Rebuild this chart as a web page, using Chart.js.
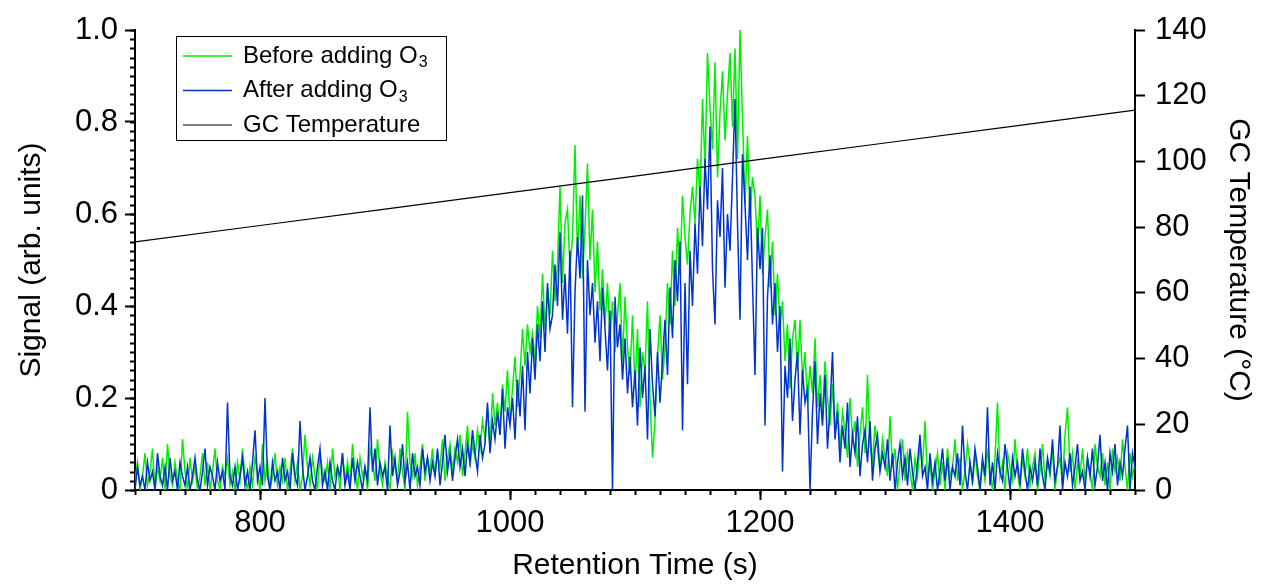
<!DOCTYPE html>
<html>
<head>
<meta charset="utf-8">
<script src="https://cdn.jsdelivr.net/npm/chart.js@4.4.1/dist/chart.umd.min.js"></script>
<style>
  html, body { margin: 0; padding: 0; background: #fff; }
</style>
</head>
<body>
<canvas id="gcChart" width="1262" height="586"></canvas>
<script>
// sampling of the signal traces (s)
const startTime = 700;
const sampleStep = 2;

// signal before adding O3 (arb. units), one value every 2 s from 700 s
const beforeO3 = [
  0.02,0.06,0.00,0.03,0.08,0.01,0.04,0.09,0.00,0.05,0.02,0.07,0.00,0.10,0.03,0.01,0.06,0.02,0.00,0.11,
  0.04,0.00,0.07,0.02,0.05,0.00,0.03,0.08,0.01,0.06,0.00,0.04,0.09,0.02,0.00,0.05,0.03,0.07,0.01,0.04,
  0.00,0.06,0.02,0.09,0.03,0.00,0.05,0.01,0.07,0.04,0.00,0.10,0.02,0.06,0.00,0.03,0.08,0.01,0.05,0.02,
  0.07,0.00,0.04,0.09,0.02,0.06,0.00,0.03,0.12,0.05,0.01,0.07,0.03,0.00,0.08,0.04,0.02,0.06,0.00,0.09,
  0.03,0.05,0.00,0.08,0.02,0.06,0.01,0.10,0.04,0.00,0.07,0.03,0.05,0.00,0.09,0.06,0.02,0.11,0.04,0.01,
  0.06,0.03,0.00,0.08,0.05,0.02,0.09,0.04,0.00,0.17,0.06,0.03,0.08,0.01,0.05,0.10,0.02,0.07,0.04,0.09,
  0.03,0.08,0.05,0.11,0.02,0.07,0.10,0.04,0.09,0.06,0.12,0.03,0.08,0.14,0.05,0.10,0.07,0.13,0.09,0.15,
  0.11,0.18,0.09,0.21,0.14,0.19,0.12,0.23,0.17,0.26,0.15,0.22,0.29,0.18,0.25,0.35,0.27,0.36,0.30,0.34,
  0.28,0.40,0.33,0.47,0.35,0.44,0.38,0.52,0.41,0.49,0.66,0.45,0.58,0.61,0.48,0.55,0.75,0.51,0.64,0.46,
  0.57,0.71,0.50,0.61,0.43,0.54,0.39,0.48,0.36,0.45,0.33,0.41,0.30,0.38,0.45,0.28,0.42,0.31,0.25,0.38,
  0.22,0.35,0.18,0.30,0.26,0.41,0.20,0.07,0.15,0.29,0.38,0.24,0.31,0.45,0.36,0.52,0.40,0.57,0.47,0.64,
  0.55,0.49,0.60,0.66,0.58,0.72,0.64,0.85,0.70,0.95,0.83,0.74,0.93,0.68,0.82,0.91,0.76,0.86,0.95,0.79,
  0.96,0.72,1.00,0.81,0.62,0.77,0.59,0.68,0.64,0.52,0.64,0.47,0.55,0.61,0.44,0.54,0.38,0.47,0.35,0.41,
  0.28,0.36,0.22,0.33,0.37,0.26,0.37,0.24,0.30,0.19,0.27,0.21,0.33,0.18,0.25,0.16,0.28,0.20,0.14,0.23,
  0.12,0.19,0.09,0.17,0.13,0.07,0.20,0.11,0.15,0.05,0.12,0.18,0.08,0.25,0.10,0.06,0.14,0.09,0.04,0.11,
  0.07,0.03,0.16,0.05,0.09,0.00,0.06,0.11,0.02,0.08,0.04,0.00,0.07,0.03,0.10,0.05,0.15,0.02,0.06,0.00,
  0.04,0.08,0.01,0.06,0.00,0.09,0.03,0.05,0.11,0.02,0.07,0.00,0.04,0.10,0.06,0.01,0.08,0.03,0.00,0.06,
  0.02,0.09,0.04,0.00,0.07,0.19,0.03,0.06,0.00,0.08,0.05,0.02,0.11,0.04,0.00,0.07,0.03,0.09,0.01,0.05,
  0.08,0.00,0.04,0.10,0.02,0.06,0.03,0.09,0.00,0.05,0.07,0.01,0.12,0.18,0.04,0.08,0.00,0.06,0.03,0.09,
  0.02,0.07,0.04,0.00,0.10,0.05,0.03,0.08,0.01,0.06,0.00,0.09,0.04,0.07,0.02,0.11,0.05,0.00,0.08,0.03,
  0.06
];

// signal after adding O3
const afterO3 = [
  0.00,0.05,0.01,0.03,0.00,0.06,0.02,0.04,0.00,0.08,0.03,0.01,0.05,0.00,0.07,0.02,0.04,0.00,0.06,0.03,
  0.01,0.05,0.00,0.03,0.07,0.02,0.00,0.04,0.09,0.01,0.05,0.03,0.00,0.06,0.02,0.04,0.00,0.19,0.03,0.01,
  0.05,0.00,0.03,0.07,0.01,0.04,0.00,0.06,0.13,0.02,0.05,0.01,0.20,0.03,0.00,0.06,0.02,0.04,0.00,0.07,
  0.02,0.04,0.00,0.08,0.03,0.01,0.15,0.05,0.00,0.03,0.07,0.02,0.00,0.05,0.09,0.01,0.04,0.00,0.06,0.02,
  0.00,0.05,0.03,0.08,0.01,0.04,0.00,0.07,0.02,0.06,0.03,0.00,0.05,0.02,0.18,0.04,0.09,0.01,0.06,0.03,
  0.05,0.00,0.14,0.03,0.07,0.01,0.04,0.10,0.02,0.06,0.00,0.08,0.03,0.05,0.01,0.09,0.04,0.07,0.02,0.06,
  0.03,0.09,0.01,0.06,0.12,0.04,0.08,0.02,0.07,0.11,0.05,0.09,0.03,0.10,0.06,0.13,0.08,0.04,0.12,0.07,
  0.10,0.19,0.08,0.15,0.11,0.17,0.12,0.22,0.09,0.18,0.14,0.20,0.11,0.24,0.16,0.27,0.13,0.30,0.21,0.33,
  0.24,0.36,0.28,0.41,0.30,0.45,0.35,0.38,0.49,0.40,0.56,0.37,0.47,0.34,0.52,0.18,0.43,0.55,0.46,0.64,
  0.17,0.50,0.38,0.45,0.32,0.41,0.28,0.44,0.35,0.26,0.39,0.00,0.42,0.31,0.36,0.24,0.33,0.21,0.29,0.18,
  0.26,0.14,0.31,0.20,0.27,0.11,0.35,0.23,0.16,0.30,0.19,0.28,0.37,0.25,0.44,0.33,0.50,0.41,0.54,0.13,
  0.45,0.23,0.52,0.40,0.58,0.47,0.66,0.53,0.72,0.61,0.79,0.48,0.36,0.63,0.55,0.70,0.44,0.60,0.52,0.68,
  0.85,0.58,0.37,0.73,0.62,0.50,0.66,0.45,0.25,0.57,0.48,0.57,0.14,0.42,0.51,0.36,0.45,0.30,0.40,0.04,
  0.27,0.20,0.33,0.15,0.24,0.30,0.12,0.26,0.19,0.22,0.00,0.17,0.28,0.10,0.21,0.14,0.25,0.09,0.18,0.30,
  0.11,0.17,0.06,0.14,0.09,0.19,0.05,0.12,0.08,0.16,0.03,0.10,0.13,0.06,0.15,0.02,0.09,0.12,0.04,0.08,
  0.05,0.11,0.02,0.08,0.00,0.06,0.10,0.03,0.07,0.01,0.09,0.04,0.00,0.06,0.12,0.03,0.05,0.00,0.08,0.02,
  0.06,0.00,0.04,0.09,0.02,0.07,0.00,0.05,0.03,0.08,0.01,0.14,0.04,0.00,0.06,0.02,0.09,0.05,0.00,0.07,
  0.03,0.18,0.01,0.06,0.00,0.08,0.04,0.02,0.10,0.05,0.00,0.07,0.03,0.06,0.01,0.09,0.04,0.00,0.05,0.02,
  0.06,0.01,0.09,0.03,0.00,0.07,0.04,0.11,0.02,0.05,0.14,0.00,0.06,0.03,0.08,0.01,0.05,0.10,0.02,0.04,
  0.00,0.07,0.03,0.09,0.01,0.05,0.12,0.02,0.06,0.00,0.08,0.04,0.10,0.01,0.06,0.03,0.09,0.14,0.00,0.08,
  0.05
];

// GC oven temperature (°C)
const tempTimes  = [700, 800, 900, 1000, 1100, 1200, 1300, 1400, 1500];
const tempValues = [75.5, 80.5, 85.5, 90.5, 95.5, 100.6, 105.6, 110.6, 115.6];

// axis ticks
const xTicks = [800, 1000, 1200, 1400];
const xMinorStep = 20;
const signalTicks = [0, 0.2, 0.4, 0.6, 0.8, 1.0];
const signalMinorStep = 0.02;
const tempTicks = [0, 20, 40, 60, 80, 100, 120, 140];

const FONT = "'Liberation Sans', Arial, sans-serif";

function toPoints(values) {
  return values.map((v, i) => ({ x: startTime + i * sampleStep, y: v }));
}

// small ticks between the labelled ones
const minorTicks = {
  id: 'minorTicks',
  afterDraw(chart) {
    const { ctx, scales } = chart;
    const x = scales.x, y = scales.y;
    ctx.save();
    ctx.strokeStyle = '#000';
    ctx.lineWidth = 2;
    ctx.beginPath();
    for (let v = x.min; v <= x.max + 0.001; v += xMinorStep) {
      const px = Math.round(x.getPixelForValue(v)) + 0.5;
      ctx.moveTo(px, x.top);
      ctx.lineTo(px, x.top + 5);
    }
    const n = Math.round((y.max - y.min) / signalMinorStep);
    for (let i = 0; i <= n; i++) {
      const py = Math.round(y.getPixelForValue(y.min + i * signalMinorStep)) + 0.5;
      ctx.moveTo(y.right - 5, py);
      ctx.lineTo(y.right, py);
    }
    ctx.stroke();
    ctx.restore();
  }
};

// boxed legend inside the plot, with subscript 3
const boxLegend = {
  id: 'boxLegend',
  afterDraw(chart) {
    const { ctx, chartArea } = chart;
    const left = chartArea.left + 41, top = chartArea.top + 6;
    const w = 270, h = 104, rowH = 34.5;
    ctx.save();
    ctx.fillStyle = '#fff';
    ctx.fillRect(left, top, w, h);
    ctx.strokeStyle = '#000';
    ctx.lineWidth = 1;
    ctx.strokeRect(left + 0.5, top + 0.5, w, h);
    chart.data.datasets.forEach((ds, i) => {
      const cy = top + 20 + i * rowH;
      ctx.strokeStyle = ds.borderColor;
      ctx.lineWidth = ds.borderWidth;
      ctx.beginPath();
      ctx.moveTo(left + 7, cy);
      ctx.lineTo(left + 56, cy);
      ctx.stroke();
      ctx.fillStyle = '#000';
      ctx.textBaseline = 'middle';
      ctx.font = '24px ' + FONT;
      const parts = ds.label.split('₃');
      ctx.fillText(parts[0], left + 67, cy);
      if (parts.length > 1) {
        const wBase = ctx.measureText(parts[0]).width;
        ctx.font = '16px ' + FONT;
        ctx.fillText('3', left + 68 + wBase, cy + 7);
      }
    });
    ctx.restore();
  }
};

const axisCommon = {
  grid: { drawOnChartArea: false, tickLength: 10, tickWidth: 2, tickColor: '#000' },
  border: { display: true, color: '#000', width: 2 }
};

new Chart(document.getElementById('gcChart'), {
  type: 'line',
  data: {
    datasets: [
      { label: 'Before adding O₃', data: toPoints(beforeO3), yAxisID: 'y',
        borderColor: '#00ee00', borderWidth: 1.5, pointRadius: 0, order: 3 },
      { label: 'After adding O₃', data: toPoints(afterO3), yAxisID: 'y',
        borderColor: '#0033cc', borderWidth: 1.5, pointRadius: 0, order: 2 },
      { label: 'GC Temperature', data: tempTimes.map((t, i) => ({ x: t, y: tempValues[i] })), yAxisID: 'y2',
        borderColor: '#000', borderWidth: 1.2, pointRadius: 0, order: 1 }
    ]
  },
  options: {
    responsive: false,
    animation: false,
    layout: { padding: { top: 30, left: 0, right: 0, bottom: 0 } },
    plugins: { legend: { display: false }, tooltip: { enabled: false } },
    scales: {
      x: {
        type: 'linear', position: 'bottom', min: 700, max: 1500,
        afterBuildTicks: axis => { axis.ticks = xTicks.map(v => ({ value: v })); },
        afterFit: s => { s.height = 96; },
        ticks: { font: { family: FONT, size: 31 }, color: '#000', padding: 5, maxRotation: 0, autoSkip: false,
                 callback: v => String(v) },
        title: { display: true, text: 'Retention Time (s)', color: '#000',
                 font: { family: FONT, size: 30 }, padding: { top: 0, bottom: 2 } },
        ...axisCommon
      },
      y: {
        position: 'left', min: 0, max: 1,
        afterBuildTicks: axis => { axis.ticks = signalTicks.map(v => ({ value: v })); },
        afterFit: s => { s.width = 135; },
        ticks: { font: { family: FONT, size: 31 }, color: '#000', padding: 7,
                 callback: v => v === 0 ? '0' : v.toFixed(1) },
        title: { display: true, text: 'Signal (arb. units)', color: '#000',
                 font: { family: FONT, size: 30 }, padding: { top: 14, bottom: 0 } },
        ...axisCommon
      },
      y2: {
        position: 'right', min: 0, max: 140,
        afterBuildTicks: axis => { axis.ticks = tempTicks.map(v => ({ value: v })); },
        afterFit: s => { s.width = 127; },
        ticks: { font: { family: FONT, size: 31 }, color: '#000', padding: 10 },
        title: { display: true, text: 'GC Temperature (°C)', color: '#000',
                 font: { family: FONT, size: 30 }, padding: { top: 6, bottom: 0 } },
        ...axisCommon
      }
    }
  },
  plugins: [minorTicks, boxLegend]
});
</script>
</body>
</html>
